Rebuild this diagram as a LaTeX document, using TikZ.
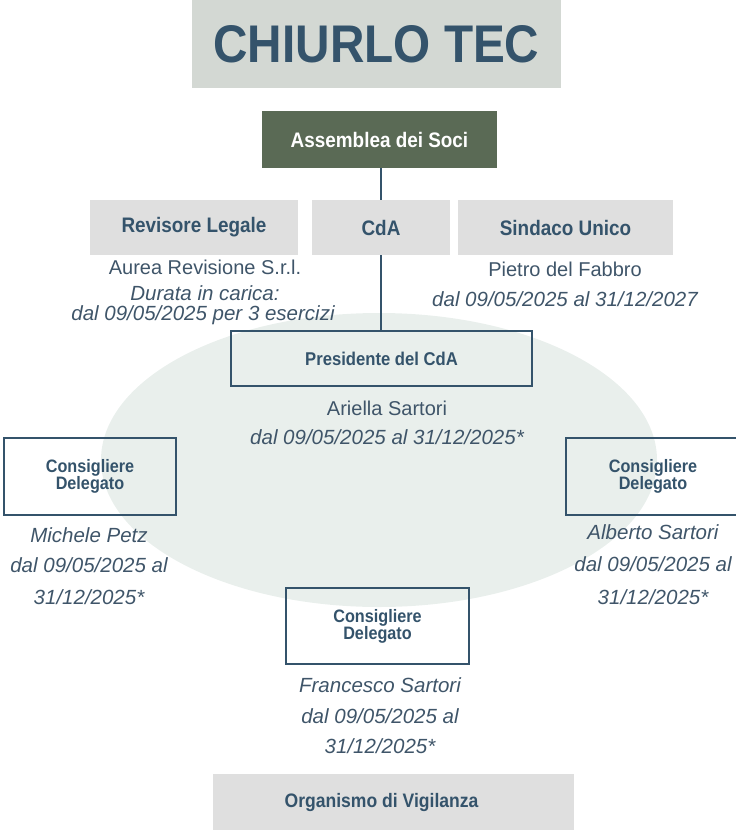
\documentclass[tikz,border=0pt]{standalone}
\usepackage{fontspec}
\setmainfont[FakeStretch=0.9]{Liberation Sans}
\newfontfamily\plainf{Liberation Sans}
\usetikzlibrary{shapes.geometric}
\definecolor{titlebg}{HTML}{D3D8D3}
\definecolor{navy}{HTML}{34536B}
\definecolor{olive}{HTML}{5A6A55}
\definecolor{graybox}{HTML}{DFDFDF}
\definecolor{ellfill}{HTML}{E9EFEC}
\definecolor{txt}{HTML}{3F5569}
\tikzset{
  graybx/.style={rectangle, fill=graybox, text=navy, inner sep=0pt, font=\fontsize{21}{24}\selectfont\bfseries},
  outbx/.style={rectangle, draw=navy, line width=2.5pt, text=navy, inner sep=0pt, align=center, font=\fontsize{18}{17}\selectfont\bfseries},
  reg/.style={anchor=base, inner sep=0pt, text=txt, font=\plainf\fontsize{20}{24}\selectfont},
  ita/.style={anchor=base, inner sep=0pt, text=txt, font=\plainf\fontsize{20.5}{24}\selectfont\itshape},
  link/.style={draw=navy, line width=2pt}
}
\begin{document}
\begin{tikzpicture}[x=1pt,y=-1pt]
\useasboundingbox (0,0) rectangle (736,830);
\node[ellipse, fill=ellfill, minimum width=556pt, minimum height=294pt, inner sep=0pt] (ell) at (379,460) {};
\node[rectangle, fill=titlebg, minimum width=369pt, minimum height=88pt, inner sep=0pt, text=navy, font=\fontsize{53}{60}\selectfont\bfseries] (title) at (376.5,44) {CHIURLO TEC};
\node[rectangle, fill=olive, minimum width=235pt, minimum height=57pt, inner sep=0pt, text=white, font=\fontsize{21}{24}\selectfont\bfseries] (ass) at (379.5,139.5) {Assemblea dei Soci};
\node[graybx, minimum width=208pt, minimum height=55pt] (rev) at (194,227.5) {Revisore Legale};
\node[graybx, minimum width=138pt, minimum height=55pt] (cda) at (381,227.5) {CdA};
\node[graybx, minimum width=215pt, minimum height=55pt] (sin) at (565.5,227.5) {Sindaco Unico};
\node[outbx, minimum width=301pt, minimum height=55pt, font=\fontsize{18.5}{20}\selectfont\bfseries] (pres) at (381.5,358.5) {Presidente del CdA};
\node[outbx, minimum width=172pt, minimum height=77pt] (cdl) at (90,476.5) {Consigliere\\Delegato};
\node[outbx, minimum width=174pt, minimum height=77pt] (cdr) at (653,476.5) {Consigliere\\Delegato};
\node[outbx, minimum width=183pt, minimum height=76pt] (cdb) at (377.5,626) {Consigliere\\Delegato};
\node[graybx, minimum width=361pt, minimum height=56pt] (odv) at (393.5,802) {};
\node[inner sep=0pt, text=navy, font=\fontsize{19.5}{22}\selectfont\bfseries] (odvt) at (381.5,802) {Organismo di Vigilanza};
\coordinate (ca) at (381,168);
\coordinate (cb) at (381,200);
\coordinate (cc) at (381,255);
\coordinate (cd) at (381,331);
\draw[link] (ca) -- (cb);
\draw[link] (cc) -- (cd);
% texts
\node[reg] (t1) at (205,274) {Aurea Revisione S.r.l.};
\node[ita] (t2) at (205,300) {Durata in carica:};
\node[ita] (t3) at (203,320) {dal 09/05/2025 per 3 esercizi};
\node[reg] (t4) at (565,276) {Pietro del Fabbro};
\node[ita] (t5) at (565,306) {dal 09/05/2025 al 31/12/2027};
\node[reg] (t6) at (387,415) {Ariella Sartori};
\node[ita] (t7) at (387,444) {dal 09/05/2025 al 31/12/2025*};
\node[ita] (t8) at (89,542) {Michele Petz};
\node[ita] (t9) at (89,572) {dal 09/05/2025 al};
\node[ita] (t10) at (89,604) {31/12/2025*};
\node[ita] (t11) at (653,539) {Alberto Sartori};
\node[ita] (t12) at (653,571) {dal 09/05/2025 al};
\node[ita] (t13) at (653,604) {31/12/2025*};
\node[ita] (t14) at (380,692) {Francesco Sartori};
\node[ita] (t15) at (380,723) {dal 09/05/2025 al};
\node[ita] (t16) at (380,753) {31/12/2025*};
\end{tikzpicture}
\end{document}
